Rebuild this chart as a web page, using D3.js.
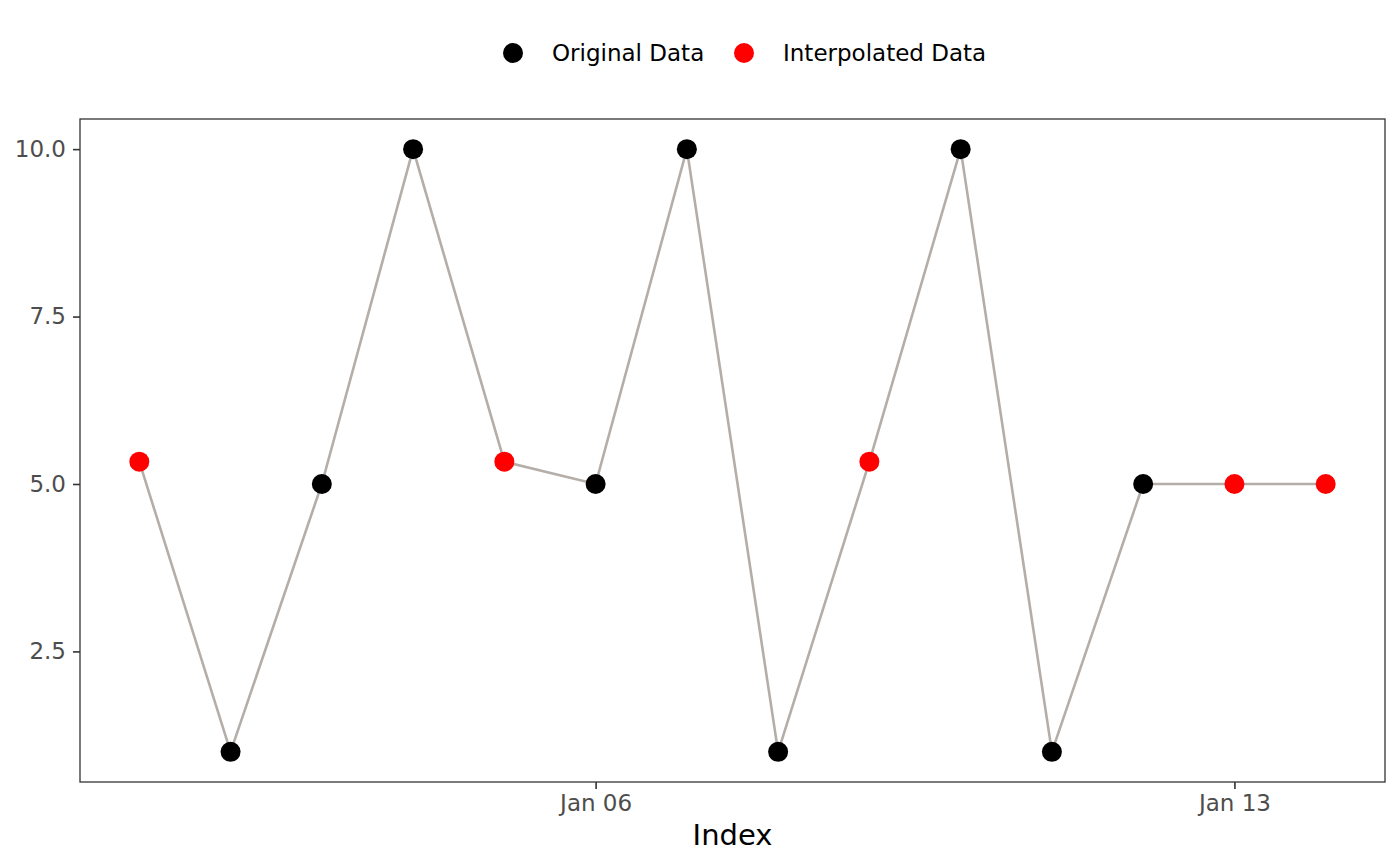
<!DOCTYPE html>
<html>
<head>
<meta charset="utf-8">
<script src="https://cdn.jsdelivr.net/npm/d3@7"></script>
<style>
  body { margin: 0; background: #fff; }
  svg { display: block; font-family: "DejaVu Sans", sans-serif; }
</style>
</head>
<body>
<svg id="chart" width="1400" height="866"></svg>
<script>
// ------------------
// Data
// ------------------
const dates = ['2024-01-01', '2024-01-02', '2024-01-03', '2024-01-04', '2024-01-05',
  '2024-01-06', '2024-01-07', '2024-01-08', '2024-01-09', '2024-01-10',
  '2024-01-11', '2024-01-12', '2024-01-13', '2024-01-14']
const values = [5.333, 1, 5, 10, 5.333, 5, 10, 1, 5.333, 10, 1, 5, 5, 5]
const kinds = ['Interpolated', 'Original', 'Original', 'Original', 'Interpolated',
  'Original', 'Original', 'Original', 'Interpolated', 'Original',
  'Original', 'Original', 'Interpolated', 'Interpolated']
const xTicks = ['2024-01-06', '2024-01-13']
const yTicks = [2.5, 5.0, 7.5, 10.0]
const legendItems = [
  { key: 'Original', label: 'Original Data' },
  { key: 'Interpolated', label: 'Interpolated Data' }
]

const FONT = '"DejaVu Sans", sans-serif'
const parse = d3.timeParse('%Y-%m-%d')
const data = dates.map((d, i) => ({ date: parse(d), value: values[i], kind: kinds[i] }))

const svg = d3.select('#chart')
const margin = { top: 119, right: 15, bottom: 84, left: 80 }
const width = 1400 - margin.left - margin.right
const height = 866 - margin.top - margin.bottom

const color = d3.scaleOrdinal()
  .domain(['Original', 'Interpolated'])
  .range(['#000000', '#ff0000'])

// ------------------
// Scales (ggplot-style 5% expansion)
// ------------------
const xExt = d3.extent(data, d => d.date)
const xPad = (xExt[1] - xExt[0]) * 0.05
const x = d3.scaleTime()
  .domain([new Date(+xExt[0] - xPad), new Date(+xExt[1] + xPad)])
  .range([0, width])

const yExt = d3.extent(data, d => d.value)
const yPad = (yExt[1] - yExt[0]) * 0.05
const y = d3.scaleLinear()
  .domain([yExt[0] - yPad, yExt[1] + yPad])
  .range([height, 0])

const g = svg.append('g')
  .attr('transform', `translate(${margin.left},${margin.top})`)

// ------------------
// Axes
// ------------------
const xAxis = g.append('g')
  .attr('transform', `translate(0,${height})`)
  .call(d3.axisBottom(x)
    .tickValues(xTicks.map(parse))
    .tickFormat(d3.timeFormat('%b %d'))
    .tickSizeInner(7)
    .tickSizeOuter(0)
    .tickPadding(5))
xAxis.attr('font-family', FONT).attr('font-size', 23)
xAxis.select('.domain').remove()
xAxis.selectAll('line').attr('stroke', '#333333').attr('stroke-width', 1.6)
xAxis.selectAll('text')
  .attr('fill', '#4d4d4d')
  .attr('dy', '0.75em')

const yAxis = g.append('g')
  .call(d3.axisLeft(y)
    .tickValues(yTicks)
    .tickFormat(d3.format('.1f'))
    .tickSizeInner(7)
    .tickSizeOuter(0)
    .tickPadding(7))
yAxis.attr('font-family', FONT).attr('font-size', 23)
yAxis.select('.domain').remove()
yAxis.selectAll('line').attr('stroke', '#333333').attr('stroke-width', 1.6)
yAxis.selectAll('text')
  .attr('fill', '#4d4d4d')

// panel border
g.append('rect')
  .attr('width', width)
  .attr('height', height)
  .attr('fill', 'none')
  .attr('stroke', '#333333')
  .attr('stroke-width', 1.3)

// ------------------
// Line + points
// ------------------
const line = d3.line()
  .x(d => x(d.date))
  .y(d => y(d.value))

g.append('path')
  .datum(data)
  .attr('d', line)
  .attr('fill', 'none')
  .attr('stroke', '#b5aea8')
  .attr('stroke-width', 2.6)

g.selectAll('circle.pt')
  .data(data)
  .enter()
  .append('circle')
  .attr('class', 'pt')
  .attr('cx', d => x(d.date))
  .attr('cy', d => y(d.value))
  .attr('r', 10)
  .attr('fill', d => color(d.kind))

// axis title
svg.append('text')
  .attr('x', margin.left + width / 2)
  .attr('y', 845)
  .attr('text-anchor', 'middle')
  .style('font-size', '29px')
  .attr('fill', '#000')
  .text('Index')

// ------------------
// Legend
// ------------------
const legend = svg.append('g').attr('transform', 'translate(0,53)')
const legendX = [513, 744]
legendItems.forEach((item, i) => {
  legend.append('circle')
    .attr('cx', legendX[i])
    .attr('cy', 0)
    .attr('r', 10)
    .attr('fill', color(item.key))
  legend.append('text')
    .attr('x', legendX[i] + 39)
    .attr('y', 0)
    .attr('dy', '0.36em')
    .style('font-size', '23px')
    .attr('fill', '#000')
    .text(item.label)
})
</script>
</body>
</html>
